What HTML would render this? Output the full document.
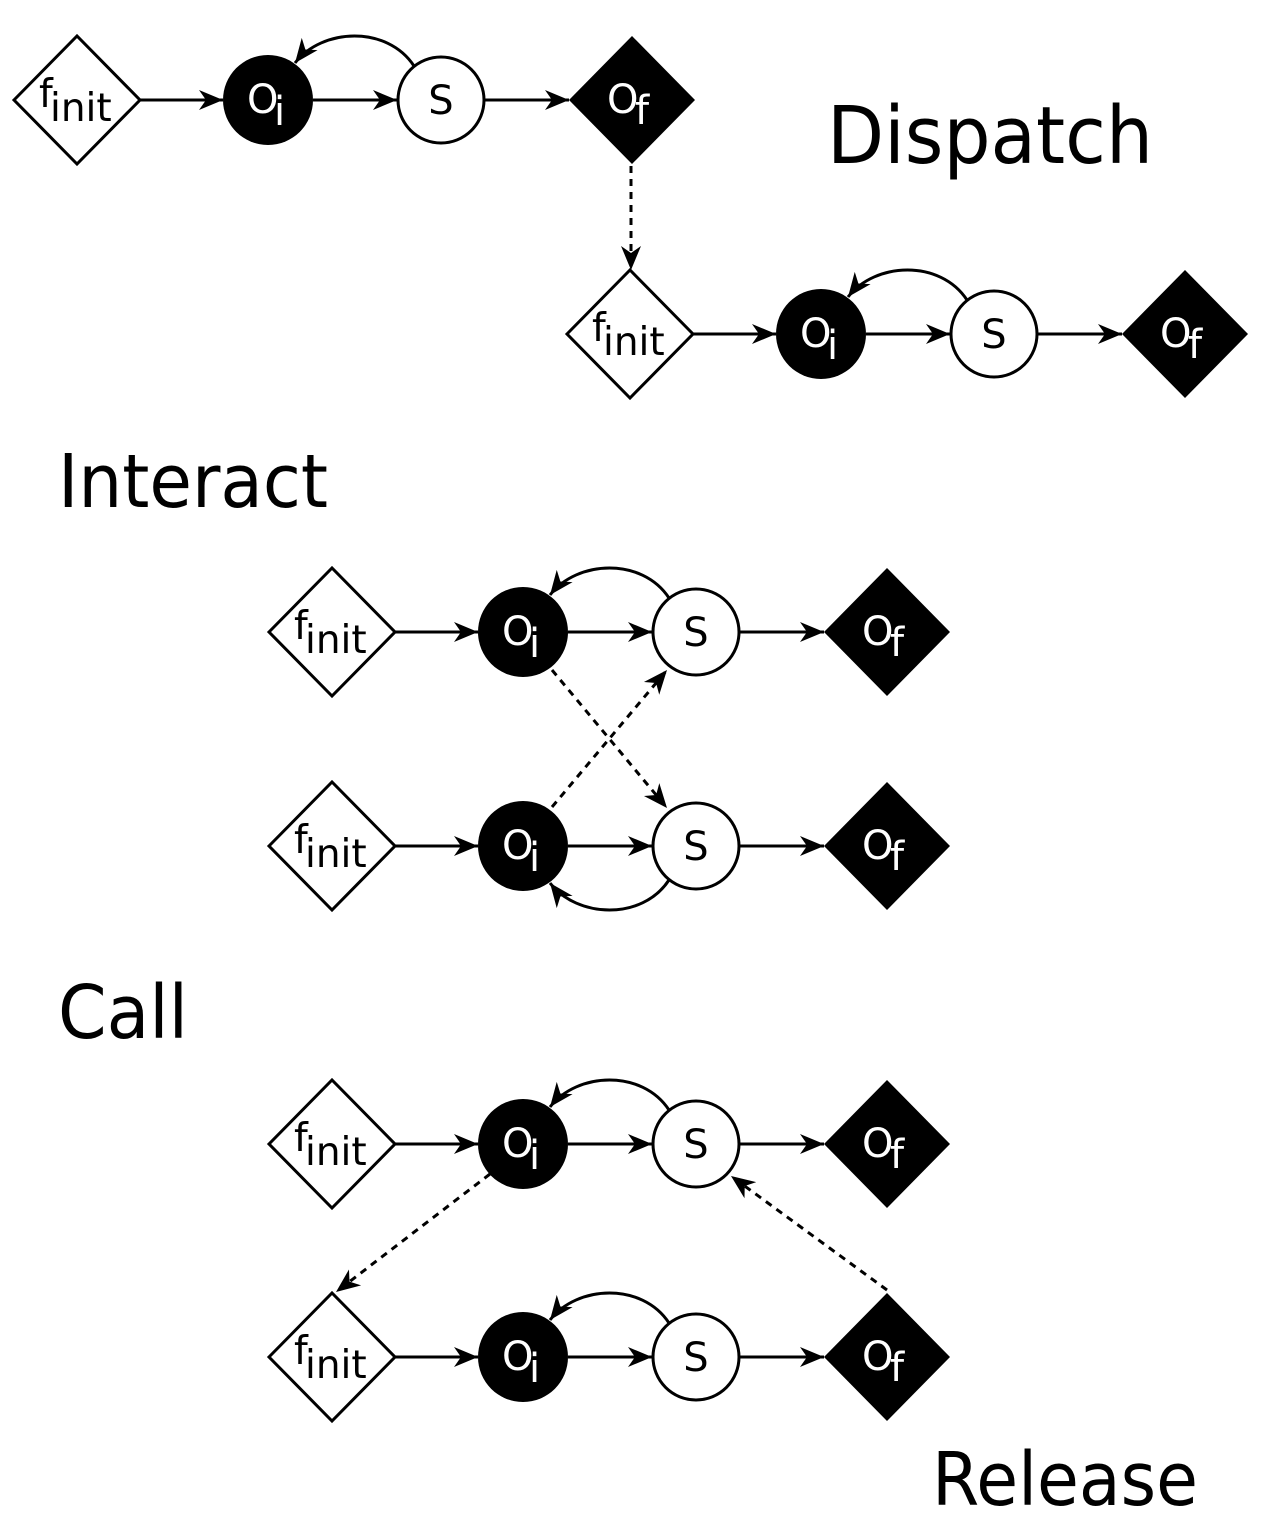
<!DOCTYPE html>
<html><head><meta charset="utf-8"><style>
html,body{margin:0;padding:0;background:#fff;}
svg{display:block;}
text{font-family:"DejaVu Sans","Liberation Sans",sans-serif;}
</style></head><body>
<svg width="1266" height="1534" viewBox="0 0 1266 1534" xmlns="http://www.w3.org/2000/svg">
<defs>
<marker id="ah" markerUnits="userSpaceOnUse" markerWidth="26" markerHeight="22" refX="24" refY="11" orient="auto">
<path d="M0,1 L24,11 L0,21 L7,11 Z" fill="#000"/>
</marker>
</defs>

<g transform="translate(77,100)">
<polygon points="-63,0 0,-64 63,0 0,64" fill="#fff" stroke="#000" stroke-width="3"/>
<text x="-38" y="7" font-size="39" fill="#000">f</text><text x="-27" y="21" font-size="39" fill="#000">init</text>
<line x1="63" y1="0" x2="146" y2="0" stroke="#000" stroke-width="3" marker-end="url(#ah)"/>
<circle cx="191" cy="0" r="45" fill="#000"/>
<text x="170" y="13" font-size="40" fill="#fff">O</text><text x="197" y="25" font-size="40" fill="#fff">i</text>
<line x1="236" y1="0" x2="320" y2="0" stroke="#000" stroke-width="3" marker-end="url(#ah)"/>
<circle cx="364" cy="0" r="43" fill="#fff" stroke="#000" stroke-width="3"/>
<text x="364" y="14" font-size="40" fill="#000" text-anchor="middle">S</text>
<line x1="407" y1="0" x2="492" y2="0" stroke="#000" stroke-width="3" marker-end="url(#ah)"/>
<polygon points="492,0 555,-64 618,0 555,64" fill="#000"/>
<text x="530" y="13" font-size="40" fill="#fff">O</text><text x="558" y="24" font-size="40" fill="#fff">f</text>
<path d="M337,-34 C310,-75 245,-72 218,-37" fill="none" stroke="#000" stroke-width="3" marker-end="url(#ah)"/>
</g>

<g transform="translate(630,334)">
<polygon points="-63,0 0,-64 63,0 0,64" fill="#fff" stroke="#000" stroke-width="3"/>
<text x="-38" y="7" font-size="39" fill="#000">f</text><text x="-27" y="21" font-size="39" fill="#000">init</text>
<line x1="63" y1="0" x2="146" y2="0" stroke="#000" stroke-width="3" marker-end="url(#ah)"/>
<circle cx="191" cy="0" r="45" fill="#000"/>
<text x="170" y="13" font-size="40" fill="#fff">O</text><text x="197" y="25" font-size="40" fill="#fff">i</text>
<line x1="236" y1="0" x2="320" y2="0" stroke="#000" stroke-width="3" marker-end="url(#ah)"/>
<circle cx="364" cy="0" r="43" fill="#fff" stroke="#000" stroke-width="3"/>
<text x="364" y="14" font-size="40" fill="#000" text-anchor="middle">S</text>
<line x1="407" y1="0" x2="492" y2="0" stroke="#000" stroke-width="3" marker-end="url(#ah)"/>
<polygon points="492,0 555,-64 618,0 555,64" fill="#000"/>
<text x="530" y="13" font-size="40" fill="#fff">O</text><text x="558" y="24" font-size="40" fill="#fff">f</text>
<path d="M337,-34 C310,-75 245,-72 218,-37" fill="none" stroke="#000" stroke-width="3" marker-end="url(#ah)"/>
</g>

<g transform="translate(332,632)">
<polygon points="-63,0 0,-64 63,0 0,64" fill="#fff" stroke="#000" stroke-width="3"/>
<text x="-38" y="7" font-size="39" fill="#000">f</text><text x="-27" y="21" font-size="39" fill="#000">init</text>
<line x1="63" y1="0" x2="146" y2="0" stroke="#000" stroke-width="3" marker-end="url(#ah)"/>
<circle cx="191" cy="0" r="45" fill="#000"/>
<text x="170" y="13" font-size="40" fill="#fff">O</text><text x="197" y="25" font-size="40" fill="#fff">i</text>
<line x1="236" y1="0" x2="320" y2="0" stroke="#000" stroke-width="3" marker-end="url(#ah)"/>
<circle cx="364" cy="0" r="43" fill="#fff" stroke="#000" stroke-width="3"/>
<text x="364" y="14" font-size="40" fill="#000" text-anchor="middle">S</text>
<line x1="407" y1="0" x2="492" y2="0" stroke="#000" stroke-width="3" marker-end="url(#ah)"/>
<polygon points="492,0 555,-64 618,0 555,64" fill="#000"/>
<text x="530" y="13" font-size="40" fill="#fff">O</text><text x="558" y="24" font-size="40" fill="#fff">f</text>
<path d="M337,-34 C310,-75 245,-72 218,-37" fill="none" stroke="#000" stroke-width="3" marker-end="url(#ah)"/>
</g>

<g transform="translate(332,846)">
<polygon points="-63,0 0,-64 63,0 0,64" fill="#fff" stroke="#000" stroke-width="3"/>
<text x="-38" y="7" font-size="39" fill="#000">f</text><text x="-27" y="21" font-size="39" fill="#000">init</text>
<line x1="63" y1="0" x2="146" y2="0" stroke="#000" stroke-width="3" marker-end="url(#ah)"/>
<circle cx="191" cy="0" r="45" fill="#000"/>
<text x="170" y="13" font-size="40" fill="#fff">O</text><text x="197" y="25" font-size="40" fill="#fff">i</text>
<line x1="236" y1="0" x2="320" y2="0" stroke="#000" stroke-width="3" marker-end="url(#ah)"/>
<circle cx="364" cy="0" r="43" fill="#fff" stroke="#000" stroke-width="3"/>
<text x="364" y="14" font-size="40" fill="#000" text-anchor="middle">S</text>
<line x1="407" y1="0" x2="492" y2="0" stroke="#000" stroke-width="3" marker-end="url(#ah)"/>
<polygon points="492,0 555,-64 618,0 555,64" fill="#000"/>
<text x="530" y="13" font-size="40" fill="#fff">O</text><text x="558" y="24" font-size="40" fill="#fff">f</text>
<path d="M337,34 C310,75 245,72 218,37" fill="none" stroke="#000" stroke-width="3" marker-end="url(#ah)"/>
</g>

<g transform="translate(332,1144)">
<polygon points="-63,0 0,-64 63,0 0,64" fill="#fff" stroke="#000" stroke-width="3"/>
<text x="-38" y="7" font-size="39" fill="#000">f</text><text x="-27" y="21" font-size="39" fill="#000">init</text>
<line x1="63" y1="0" x2="146" y2="0" stroke="#000" stroke-width="3" marker-end="url(#ah)"/>
<circle cx="191" cy="0" r="45" fill="#000"/>
<text x="170" y="13" font-size="40" fill="#fff">O</text><text x="197" y="25" font-size="40" fill="#fff">i</text>
<line x1="236" y1="0" x2="320" y2="0" stroke="#000" stroke-width="3" marker-end="url(#ah)"/>
<circle cx="364" cy="0" r="43" fill="#fff" stroke="#000" stroke-width="3"/>
<text x="364" y="14" font-size="40" fill="#000" text-anchor="middle">S</text>
<line x1="407" y1="0" x2="492" y2="0" stroke="#000" stroke-width="3" marker-end="url(#ah)"/>
<polygon points="492,0 555,-64 618,0 555,64" fill="#000"/>
<text x="530" y="13" font-size="40" fill="#fff">O</text><text x="558" y="24" font-size="40" fill="#fff">f</text>
<path d="M337,-34 C310,-75 245,-72 218,-37" fill="none" stroke="#000" stroke-width="3" marker-end="url(#ah)"/>
</g>

<g transform="translate(332,1357)">
<polygon points="-63,0 0,-64 63,0 0,64" fill="#fff" stroke="#000" stroke-width="3"/>
<text x="-38" y="7" font-size="39" fill="#000">f</text><text x="-27" y="21" font-size="39" fill="#000">init</text>
<line x1="63" y1="0" x2="146" y2="0" stroke="#000" stroke-width="3" marker-end="url(#ah)"/>
<circle cx="191" cy="0" r="45" fill="#000"/>
<text x="170" y="13" font-size="40" fill="#fff">O</text><text x="197" y="25" font-size="40" fill="#fff">i</text>
<line x1="236" y1="0" x2="320" y2="0" stroke="#000" stroke-width="3" marker-end="url(#ah)"/>
<circle cx="364" cy="0" r="43" fill="#fff" stroke="#000" stroke-width="3"/>
<text x="364" y="14" font-size="40" fill="#000" text-anchor="middle">S</text>
<line x1="407" y1="0" x2="492" y2="0" stroke="#000" stroke-width="3" marker-end="url(#ah)"/>
<polygon points="492,0 555,-64 618,0 555,64" fill="#000"/>
<text x="530" y="13" font-size="40" fill="#fff">O</text><text x="558" y="24" font-size="40" fill="#fff">f</text>
<path d="M337,-34 C310,-75 245,-72 218,-37" fill="none" stroke="#000" stroke-width="3" marker-end="url(#ah)"/>
</g>

<g fill="none" stroke="#000" stroke-width="3" stroke-dasharray="7,6">
<line x1="631" y1="166" x2="631" y2="270" marker-end="url(#ah)"/>
<line x1="552" y1="670" x2="667" y2="808" marker-end="url(#ah)"/>
<line x1="552" y1="807" x2="667" y2="670" marker-end="url(#ah)"/>
<line x1="490" y1="1174" x2="336" y2="1292" marker-end="url(#ah)"/>
<line x1="887" y1="1290" x2="731" y2="1176" marker-end="url(#ah)"/>
</g>

<text x="827" y="163" font-size="79" textLength="326" lengthAdjust="spacingAndGlyphs" fill="#000">Dispatch</text>
<text x="58" y="507" font-size="74" textLength="270" lengthAdjust="spacingAndGlyphs" fill="#000">Interact</text>
<text x="58" y="1038" font-size="74" textLength="130" lengthAdjust="spacingAndGlyphs" fill="#000">Call</text>
<text x="932" y="1505" font-size="74" textLength="266" lengthAdjust="spacingAndGlyphs" fill="#000">Release</text>
</svg>
</body></html>
